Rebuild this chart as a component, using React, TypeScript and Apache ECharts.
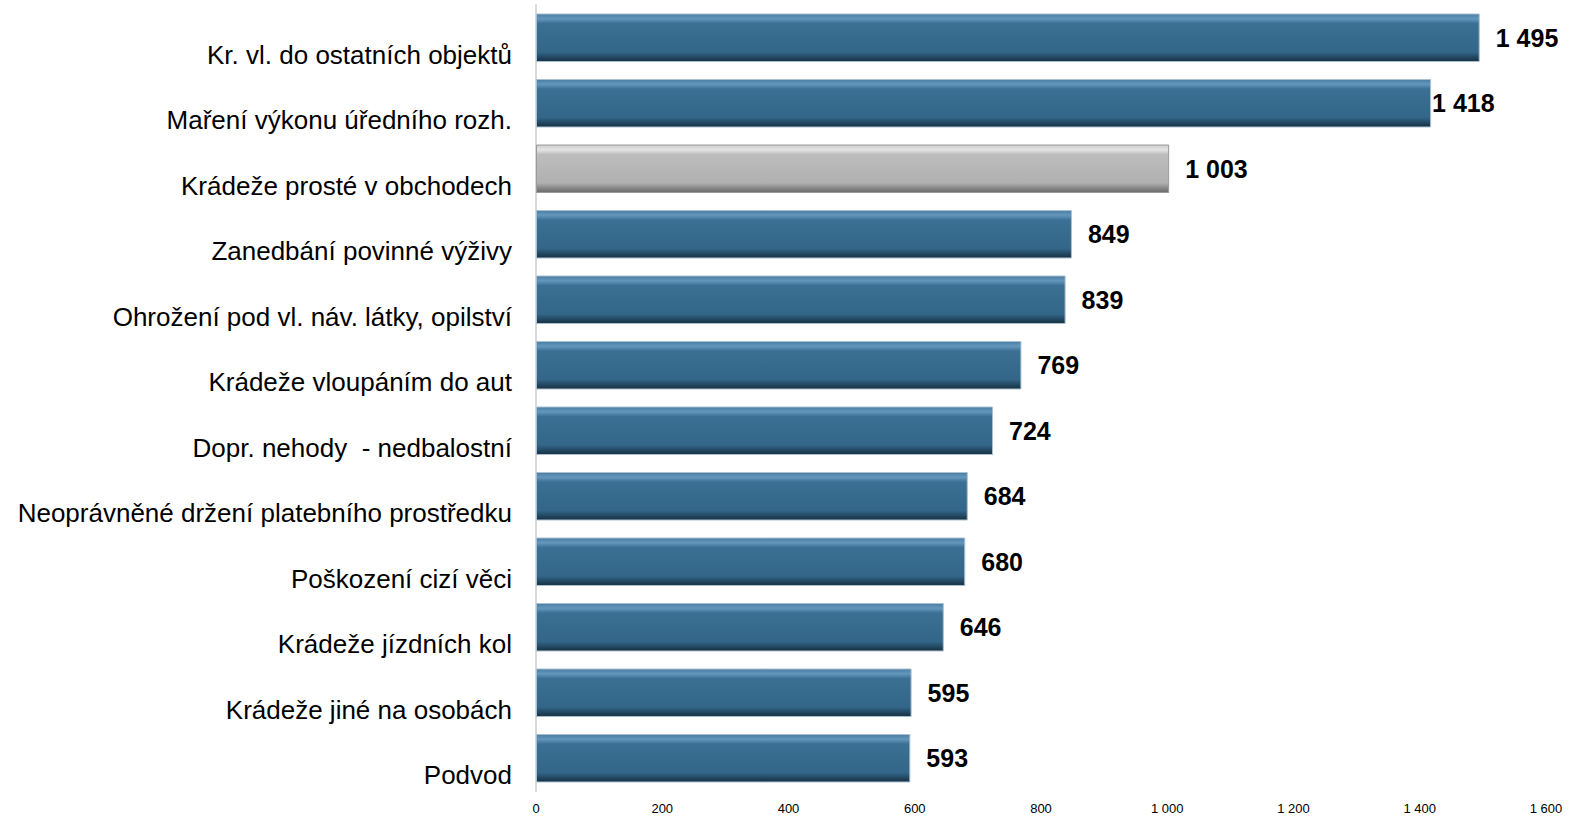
import React, { useEffect, useRef } from "react";
import * as echarts from "echarts";

const categories = [
  "Kr. vl. do ostatních objektů",
  "Maření výkonu úředního rozh.",
  "Krádeže prosté v obchodech",
  "Zanedbání povinné výživy",
  "Ohrožení pod vl. náv. látky, opilství",
  "Krádeže vloupáním do aut",
  "Dopr. nehody  - nedbalostní",
  "Neoprávněné držení platebního prostředku",
  "Poškození cizí věci",
  "Krádeže jízdních kol",
  "Krádeže jiné na osobách",
  "Podvod",
];
const values = [1495, 1418, 1003, 849, 839, 769, 724, 684, 680, 646, 595, 593];
const highlighted = [false, false, true, false, false, false, false, false, false, false, false, false];
const labelDistances = [16, 1, 16, 16, 16, 16, 16, 16, 16, 16, 16, 16];

const fmt = (v: number) => String(v).replace(/\B(?=(\d{3})+(?!\d))/g, " ");

const blueFill = new echarts.graphic.LinearGradient(0, 0, 0, 1, [
  { offset: 0, color: "#4a7da3" },
  { offset: 0.1, color: "#6597bd" },
  { offset: 0.2, color: "#3b7094" },
  { offset: 0.8, color: "#336688" },
  { offset: 0.9, color: "#244b66" },
  { offset: 1, color: "#182f40" },
]);
const grayFill = new echarts.graphic.LinearGradient(0, 0, 0, 1, [
  { offset: 0, color: "#cccccc" },
  { offset: 0.1, color: "#e4e4e4" },
  { offset: 0.2, color: "#bdbdbd" },
  { offset: 0.8, color: "#b0b0b0" },
  { offset: 0.9, color: "#8a8a8a" },
  { offset: 1, color: "#6a6a6a" },
]);

export default function App() {
  const ref = useRef<HTMLDivElement>(null);
  useEffect(() => {
    if (!ref.current) return;
    const chart = echarts.init(ref.current, null, { renderer: "svg" });
    const data = values.map((v, i) => ({
      value: v,
      itemStyle: highlighted[i]
        ? { color: grayFill, borderColor: "#9a9a9a", borderWidth: 1 }
        : { color: blueFill, borderColor: "#a9c0d0", borderWidth: 1 },
      label: { distance: labelDistances[i] },
    }));
    chart.setOption({
      animation: false,
      grid: { left: 536, right: 47, top: 5, bottom: 37, containLabel: false },
      xAxis: {
        type: "value",
        min: 0,
        max: 1600,
        interval: 200,
        axisLine: { show: false },
        axisTick: { show: false },
        splitLine: { show: false },
        axisLabel: {
          color: "#000",
          fontFamily: "Liberation Sans, Arial, sans-serif",
          fontSize: 13,
          margin: 11,
          formatter: (v: number) => fmt(v),
        },
      },
      yAxis: {
        type: "category",
        inverse: true,
        data: categories,
        axisLine: { show: true, lineStyle: { color: "#d9d9d9", width: 2 } },
        axisTick: { show: false },
        axisLabel: {
          color: "#000",
          fontFamily: "Liberation Sans, Arial, sans-serif",
          fontSize: 26,
          margin: 24,
          verticalAlign: "top",
          lineHeight: 34,
        },
      },
      series: [
        {
          type: "bar",
          data,
          barCategoryGap: "26%",
          label: {
            show: true,
            position: "right",
            color: "#000",
            fontWeight: "bold",
            fontFamily: "Liberation Sans, Arial, sans-serif",
            fontSize: 25,
            formatter: (p: any) => fmt(p.value),
          },
        },
      ],
    });
    return () => chart.dispose();
  }, []);
  return (
    <div
      ref={ref}
      style={{ position: "fixed", left: 0, top: 0, width: 1593, height: 828, background: "#fff" }}
    />
  );
}
